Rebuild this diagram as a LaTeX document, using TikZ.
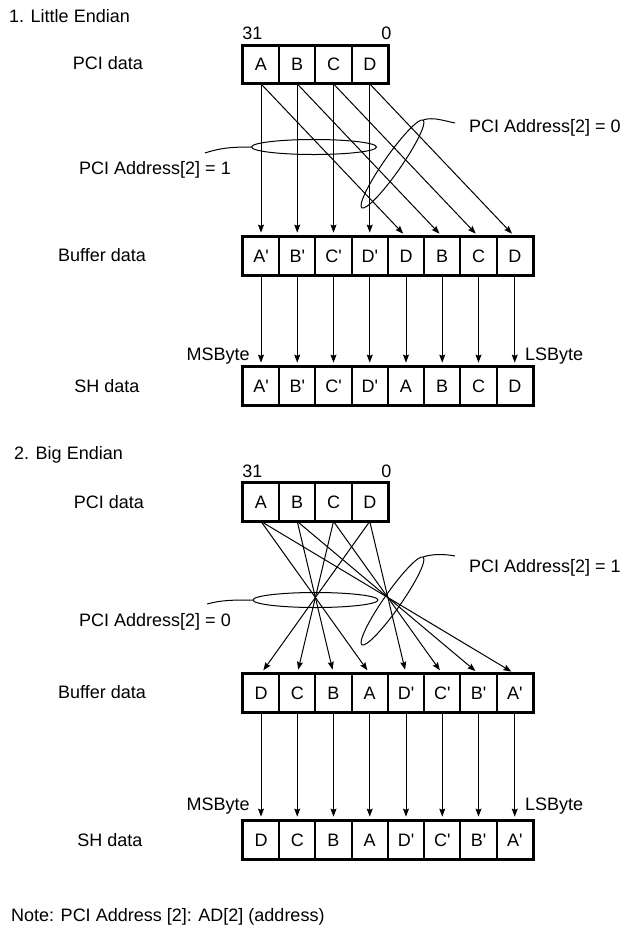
\documentclass[tikz,border=0pt]{standalone}
\usepackage{fontspec}
\setmainfont{Liberation Sans}
\usetikzlibrary{positioning, arrows.meta, fit, calc, shapes.geometric}
\newcommand{\bytemark}{\textquotesingle}

\begin{document}
\begin{tikzpicture}[
    x=0.5pt, y=-0.5pt,
    every node/.style={font=\fontsize{9}{11}\selectfont},
    cell/.style={rectangle, draw=black, line width=0.9pt, minimum width=18.125pt, minimum height=18.5pt, inner sep=0pt},
    frame/.style={rectangle, draw=black, line width=1.4pt, inner sep=0pt},
    arrow/.style={-{Stealth[length=4pt, width=3pt, inset=0.6pt]}, line width=0.5pt, shorten >=2pt},
    select/.style={ellipse, draw=black, line width=0.5pt, inner sep=0pt},
    lead/.style={line width=0.5pt},
    title/.style={anchor=west},
    bitno/.style={inner xsep=0pt, inner ysep=2.5pt}
]
\useasboundingbox (0,0) rectangle (627,928);

% 1. Little Endian
\node[title] (ltitle) at (2,16) {1. Little Endian};
\node (lpcitxt) at (108,63) {PCI data};
\node (lbuftxt) at (102,255) {Buffer data};
\node (lshtxt) at (107,386) {SH data};

\foreach \t [count=\i] in {A,B,C,D}
    \node[cell] (lpci\i) at ({261+36.25*(\i-1)},64.5) {\t};
\foreach \t [count=\i] in {A\bytemark,B\bytemark,C\bytemark,D\bytemark,D,B,C,D}
    \node[cell] (lbuf\i) at ({261+36.25*(\i-1)},256) {\t};
\foreach \t [count=\i] in {A\bytemark,B\bytemark,C\bytemark,D\bytemark,A,B,C,D}
    \node[cell] (lsh\i) at ({261+36.25*(\i-1)},386) {\t};
\node[frame, fit=(lpci1)(lpci4)] (lpcibox) {};
\node[frame, fit=(lbuf1)(lbuf8)] (lbufbox) {};
\node[frame, fit=(lsh1)(lsh8)] (lshbox) {};

\node[bitno, anchor=south west] (lmsbit) at (lpci1.north west) {31};
\node[bitno, anchor=south east] (llsbit) at ($(lpci4.north east)+(3,0)$) {0};
\node[anchor=east, inner sep=0pt] (lmsb) at ($(lsh1.north)+(-11,-11)$) {MSByte};
\node[anchor=west, inner sep=0pt] (llsb) at ($(lsh8.north)+(10,-11)$) {LSByte};

% byte lanes
\foreach \i in {1,...,4}
    \draw[arrow] (lpci\i.south) -- (lbuf\i.north);
\foreach \i [evaluate=\i as \j using int(\i+4)] in {1,...,4}
    \draw[arrow] (lpci\i.south) -- (lbuf\j.north);
\foreach \i in {1,...,8}
    \draw[arrow] (lbuf\i.south) -- (lsh\i.north);

% address select
\node[select, minimum width=62.5pt, minimum height=7.5pt] (lsel1) at (314,147) {};
\node[select, minimum width=53.5pt, minimum height=8.5pt, rotate=55] (lsel0) at (392.5,164) {};
\node (lsel1txt) at (155,170) {PCI Address[2] = 1};
\node[anchor=west] (lsel0txt) at (462,128) {PCI Address[2] = 0};
\coordinate (lsel1end) at (205,153);
\coordinate (lsel0end) at (455,123);
\draw[lead] (lsel1.west) .. controls +(-20,0) and +(15,-5) .. (lsel1end);
\draw[lead] (lsel0.east) .. controls +(10,-3) and +(-10,-2) .. (lsel0end);

% 2. Big Endian
\node[title] (gtitle) at (7,455) {2. Big Endian};
\node (gpcitxt) at (109,502) {PCI data};
\node (gbuftxt) at (102,692) {Buffer data};
\node (gshtxt) at (110,840) {SH data};

\foreach \t [count=\i] in {A,B,C,D}
    \node[cell] (gpci\i) at ({261+36.25*(\i-1)},502) {\t};
\foreach \t [count=\i] in {D,C,B,A,D\bytemark,C\bytemark,B\bytemark,A\bytemark}
    \node[cell] (gbuf\i) at ({261+36.25*(\i-1)},693) {\t};
\foreach \t [count=\i] in {D,C,B,A,D\bytemark,C\bytemark,B\bytemark,A\bytemark}
    \node[cell] (gsh\i) at ({261+36.25*(\i-1)},840) {\t};
\node[frame, fit=(gpci1)(gpci4)] (gpcibox) {};
\node[frame, fit=(gbuf1)(gbuf8)] (gbufbox) {};
\node[frame, fit=(gsh1)(gsh8)] (gshbox) {};

\node[bitno, anchor=south west] (gmsbit) at (gpci1.north west) {31};
\node[bitno, anchor=south east] (glsbit) at ($(gpci4.north east)+(3,0)$) {0};
\node[anchor=east, inner sep=0pt] (gmsb) at ($(gsh1.north)+(-11,-15)$) {MSByte};
\node[anchor=west, inner sep=0pt] (glsb) at ($(gsh8.north)+(10,-15)$) {LSByte};

% byte lanes (crossed)
\foreach \i [evaluate=\i as \j using int(5-\i)] in {1,...,4}
    \draw[arrow] (gpci\i.south) -- (gbuf\j.north);
\foreach \i [evaluate=\i as \j using int(9-\i)] in {1,...,4}
    \draw[arrow] (gpci\i.south) -- (gbuf\j.north);
\foreach \i in {1,...,8}
    \draw[arrow] (gbuf\i.south) -- (gsh\i.north);

% address select
\node[select, minimum width=62.5pt, minimum height=7.5pt] (gsel0) at (315.5,600) {};
\node[select, minimum width=53.5pt, minimum height=8.5pt, rotate=55] (gsel1) at (392.5,601) {};
\node (gsel0txt) at (155,622) {PCI Address[2] = 0};
\node[anchor=west] (gsel1txt) at (462,568) {PCI Address[2] = 1};
\coordinate (gsel0end) at (207,604);
\coordinate (gsel1end) at (455,556);
\draw[lead] (gsel0.west) .. controls +(-20,0) and +(15,-4) .. (gsel0end);
\draw[lead] (gsel1.east) .. controls +(10,-3) and +(-10,-2) .. (gsel1end);

\node[title] (note) at (4,917) {Note: PCI Address [2]: AD[2] (address)};
\end{tikzpicture}
\end{document}
